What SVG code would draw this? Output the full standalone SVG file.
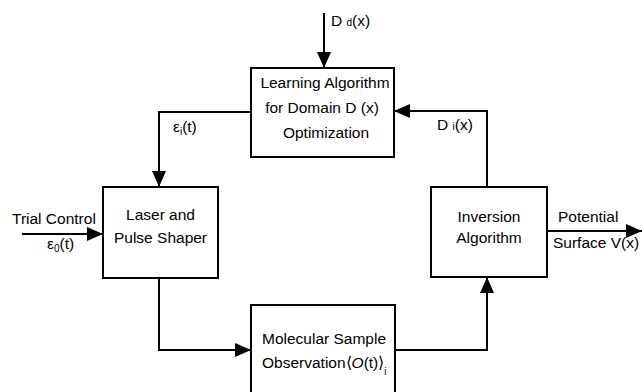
<svg xmlns="http://www.w3.org/2000/svg" width="642" height="392" viewBox="0 0 642 392">
<style>
.box{fill:#fff;stroke:#000;stroke-width:2}
.ln{fill:none;stroke:#000;stroke-width:2}
text{font-family:"Liberation Sans",Arial,sans-serif;font-size:15.5px;fill:#000}
.sub{font-size:10px}
</style>
<defs>
<marker id="ah" viewBox="0 0 10 10" refX="10" refY="5" markerWidth="16" markerHeight="14" markerUnits="userSpaceOnUse" orient="auto" preserveAspectRatio="none">
<path d="M0,0 L10,5 L0,10 Z" fill="#000"/>
</marker>
</defs>
<g id="connectors">
<path class="ln" d="M324,13 V68" marker-end="url(#ah)"/>
<path class="ln" d="M487,187 V111 H394" marker-end="url(#ah)"/>
<path class="ln" d="M251,112 H159 V187" marker-end="url(#ah)"/>
<path class="ln" d="M22,234 H103" marker-end="url(#ah)"/>
<path class="ln" d="M159,278 V350 H251" marker-end="url(#ah)"/>
<path class="ln" d="M395,350 H487 V277" marker-end="url(#ah)"/>
<path class="ln" d="M547,231 H642" marker-end="url(#ah)"/>
<text x="331" y="26">D <tspan class="sub">d</tspan>(x)</text>
<text x="437" y="130">D <tspan class="sub">i</tspan>(x)</text>
<text x="173" y="132">ε<tspan class="sub" dy="3">i</tspan><tspan dy="-3">(t)</tspan></text>
<text x="12" y="224">Trial Control</text>
<text x="47" y="249">ε<tspan class="sub" dy="3">0</tspan><tspan dy="-3">(t)</tspan></text>
<text x="558" y="222">Potential</text>
<text x="553" y="248">Surface V(x)</text>
</g>
<g id="learning">
<rect class="box" x="251" y="68" width="143" height="89"/>
<text x="325" y="88" text-anchor="middle">Learning Algorithm</text>
<text x="322" y="113" text-anchor="middle">for Domain D (x)</text>
<text x="326" y="138" text-anchor="middle">Optimization</text>
</g>
<g id="laser">
<rect class="box" x="103" y="187" width="115" height="91"/>
<text x="160.5" y="220" text-anchor="middle">Laser and</text>
<text x="160.5" y="243" text-anchor="middle">Pulse Shaper</text>
</g>
<g id="inversion">
<rect class="box" x="431" y="187" width="116" height="90"/>
<text x="489" y="222" text-anchor="middle">Inversion</text>
<text x="489" y="243" text-anchor="middle">Algorithm</text>
</g>
<g id="molecular">
<rect class="box" x="251" y="305" width="144" height="92"/>
<text x="262" y="344">Molecular Sample</text>
<text x="262" y="368">Observation⟨<tspan font-style="italic">O</tspan>(t)⟩<tspan class="sub" dy="7">i</tspan></text>
</g>
</svg>
